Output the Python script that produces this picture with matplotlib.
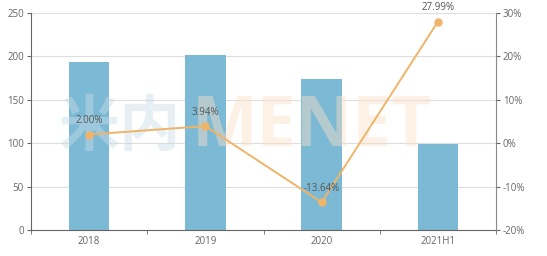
import matplotlib
matplotlib.use("Agg")
import matplotlib.pyplot as plt
import numpy as np

categories = ["2018", "2019", "2020", "2021H1"]
bar_values = [193.5, 201.5, 174, 99]
growth = [2.00, 3.94, -13.64, 27.99]
growth_labels = ["2.00%", "3.94%", "-13.64%", "27.99%"]
left_ticks = [0, 50, 100, 150, 200, 250]
right_ticks = [-20, -10, 0, 10, 20, 30]

plt.rcParams['font.family'] = ['Open Sans', 'Noto Sans CJK SC', 'DejaVu Sans']

fig = plt.figure(figsize=(5.47, 2.56), dpi=100)
ax = fig.add_axes([31/547, 1-230/256, (496-31)/547, (230-13)/256])
x = np.arange(len(categories))

ax.set_facecolor("none")
ax.bar(x, bar_values, width=0.35, color="#7cb9d5", zorder=2)
ax.set_xlim(-0.5, 3.5)
ax.set_ylim(0, 250)
ax.set_yticks(left_ticks)
ax.grid(axis="y", color="#dddddd", linewidth=0.8, zorder=0)
ax.set_axisbelow(True)
ax.set_xticks(x)
ax.set_xticklabels(categories)
ax.set_xticks(np.arange(-0.5, 4, 1), minor=True)
ax.tick_params(axis="x", which="major", length=0, pad=4)
ax.tick_params(axis="x", which="minor", length=3, color="#666666")
ax.tick_params(axis="y", length=3, color="#666666", pad=2)
ax.tick_params(labelsize=7, labelcolor="#666666")
for s in ["top", "right"]:
    ax.spines[s].set_visible(False)
for s in ["left", "bottom"]:
    ax.spines[s].set_color("#666666")

# faint watermark
ax.text(0.06, 0.47, "米内", transform=ax.transAxes, fontsize=44, color="#c9dde8",
        alpha=0.45, fontweight="bold", va="center", ha="left", zorder=2.5,
        family=['Noto Sans CJK SC'])
ax.text(0.345, 0.47, "MENET", transform=ax.transAxes, fontsize=50, color="#fbe0c8",
        alpha=0.45, fontweight="bold", va="center", ha="left", zorder=2.5)

ax2 = ax.twinx()
ax2.set_ylim(-20, 30)
ax2.set_yticks(right_ticks)
ax2.set_yticklabels([f"{t}%" for t in right_ticks])
ax2.plot(x, growth, color="#f0b468", linewidth=1.4, marker="o", markersize=5, zorder=3)
for xi, g, lab in zip(x, growth, growth_labels):
    ax2.annotate(lab, (xi, g), xytext=(0, 6), textcoords="offset points",
                 ha="center", va="bottom", fontsize=7, color="#555555")
ax2.tick_params(axis="y", length=3, color="#666666", labelsize=7, labelcolor="#666666", pad=2)
for s in ["top", "left", "bottom"]:
    ax2.spines[s].set_visible(False)
ax2.spines["right"].set_color("#888888")

fig.savefig("out.png", dpi=100)
